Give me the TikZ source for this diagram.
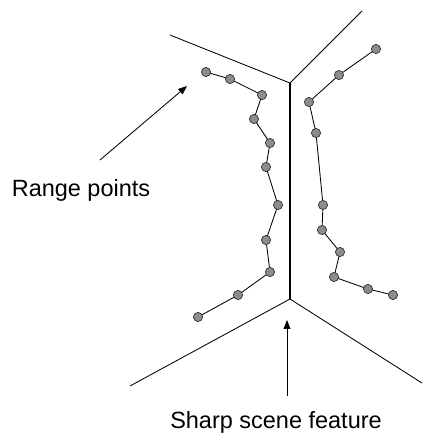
\documentclass[tikz,border=0pt]{standalone}
\usepackage{fontspec}
\setmainfont{Liberation Sans}
\usetikzlibrary{arrows.meta}
\tikzset{
  edgeline/.style={line width=0.6pt},
  rangept/.style={circle,draw=black!80,fill=black!45,line width=0.5pt,inner sep=0pt,minimum size=0.23cm},
  callout/.style={line width=0.6pt,-{Triangle[length=0.22cm,width=0.17cm]}},
  lbl/.style={font=\fontsize{16.7}{19}\selectfont,inner sep=0pt}
}
\begin{document}
\begin{tikzpicture}[x=0.025cm,y=-0.025cm]
\useasboundingbox (0,0) rectangle (422,443);

\coordinate (top) at (290,83);
\coordinate (bot) at (290,299);
\draw[edgeline]
(170,35) -- (top) -- (362,11);
\draw[edgeline]
(130,386) -- (bot) -- (422,383);
\draw[line width=1.4pt]
(top) -- (bot);

\foreach \x/\y [count=\i] in {206/72,230/79,262/95,254/119,270/143,266/167,278/205,266/240,270/272,238/295,198/317}
  \coordinate (l\i) at (\x,\y);
\foreach \x/\y [count=\i] in {376/49,339/75,309/102,316/133,323/205,322/230,340/252,334/277,368/289,393/295}
  \coordinate (r\i) at (\x,\y);

\draw[edgeline]
(l1) \foreach \i in {2,...,11} {-- (l\i)};
\draw[edgeline]
(r1) \foreach \i in {2,...,10} {-- (r\i)};
\foreach \i in {1,...,11}
  \node[rangept] (pl\i) at (l\i) {};
\foreach \i in {1,...,10}
  \node[rangept] (pr\i) at (r\i) {};

\node[lbl] (rangetxt) at (81,190) {Range points};
\coordinate (rangetail) at (100,160);
\coordinate (rangehead) at (187,86);
\draw[callout] (rangetail) -- (rangehead);

\node[lbl] (sharptxt) at (276,422) {Sharp scene feature};
\coordinate (sharptail) at (287,396);
\coordinate (sharphead) at (287,320);
\draw[callout] (sharptail) -- (sharphead);
\end{tikzpicture}
\end{document}
